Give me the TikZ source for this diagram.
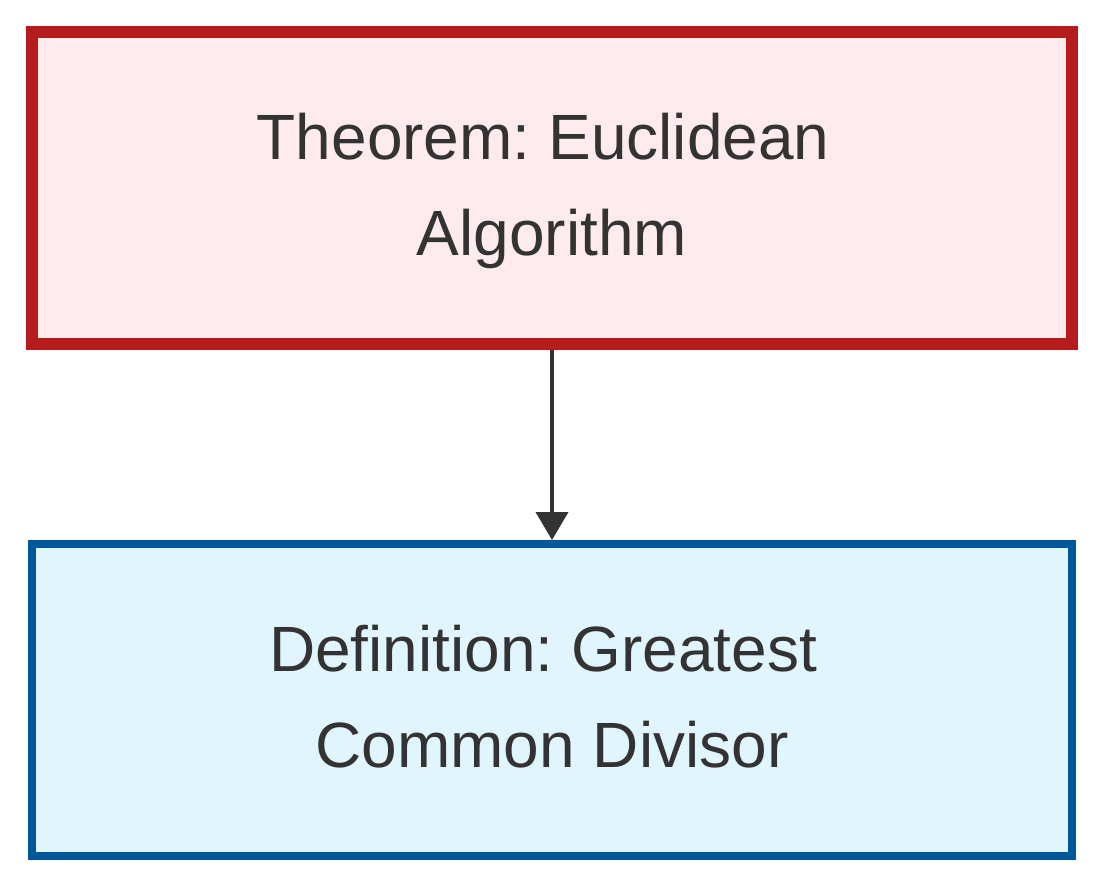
\documentclass[tikz,border=0pt]{standalone}
\usepackage{fontspec}
\setmainfont{Liberation Sans}
\usetikzlibrary{arrows.meta}
\definecolor{thmborder}{HTML}{B71C1C}
\definecolor{thmfill}{HTML}{FFEBEE}
\definecolor{defborder}{HTML}{01579B}
\definecolor{deffill}{HTML}{E1F5FE}
\definecolor{txt}{HTML}{333333}
\definecolor{edge}{HTML}{333333}
\tikzset{
  box/.style={rectangle, inner sep=0pt, minimum width=780pt, minimum height=234pt,
    align=center, text=txt, font=\fontsize{48}{72}\selectfont\frenchspacing},
  thmbox/.style={box, draw=thmborder, fill=thmfill, line width=9pt},
  defbox/.style={box, draw=defborder, fill=deffill, line width=6pt},
  link/.style={draw=edge, line width=3pt, -{Triangle[width=24pt,length=21pt]}}
}
\begin{document}
\begin{tikzpicture}[x=0.75pt,y=-0.75pt]
\useasboundingbox (0,0) rectangle (1104,888);
\node[thmbox] (thm) at (552,188) {\strut Theorem: Euclidean\ \mbox{}\\ \strut Algorithm};
\node[defbox] (def) at (552,700) {\strut Definition: Greatest\ \mbox{}\\ \strut Common Divisor};
\draw[link] (thm.south) -- (def.north);
\end{tikzpicture}
\end{document}
